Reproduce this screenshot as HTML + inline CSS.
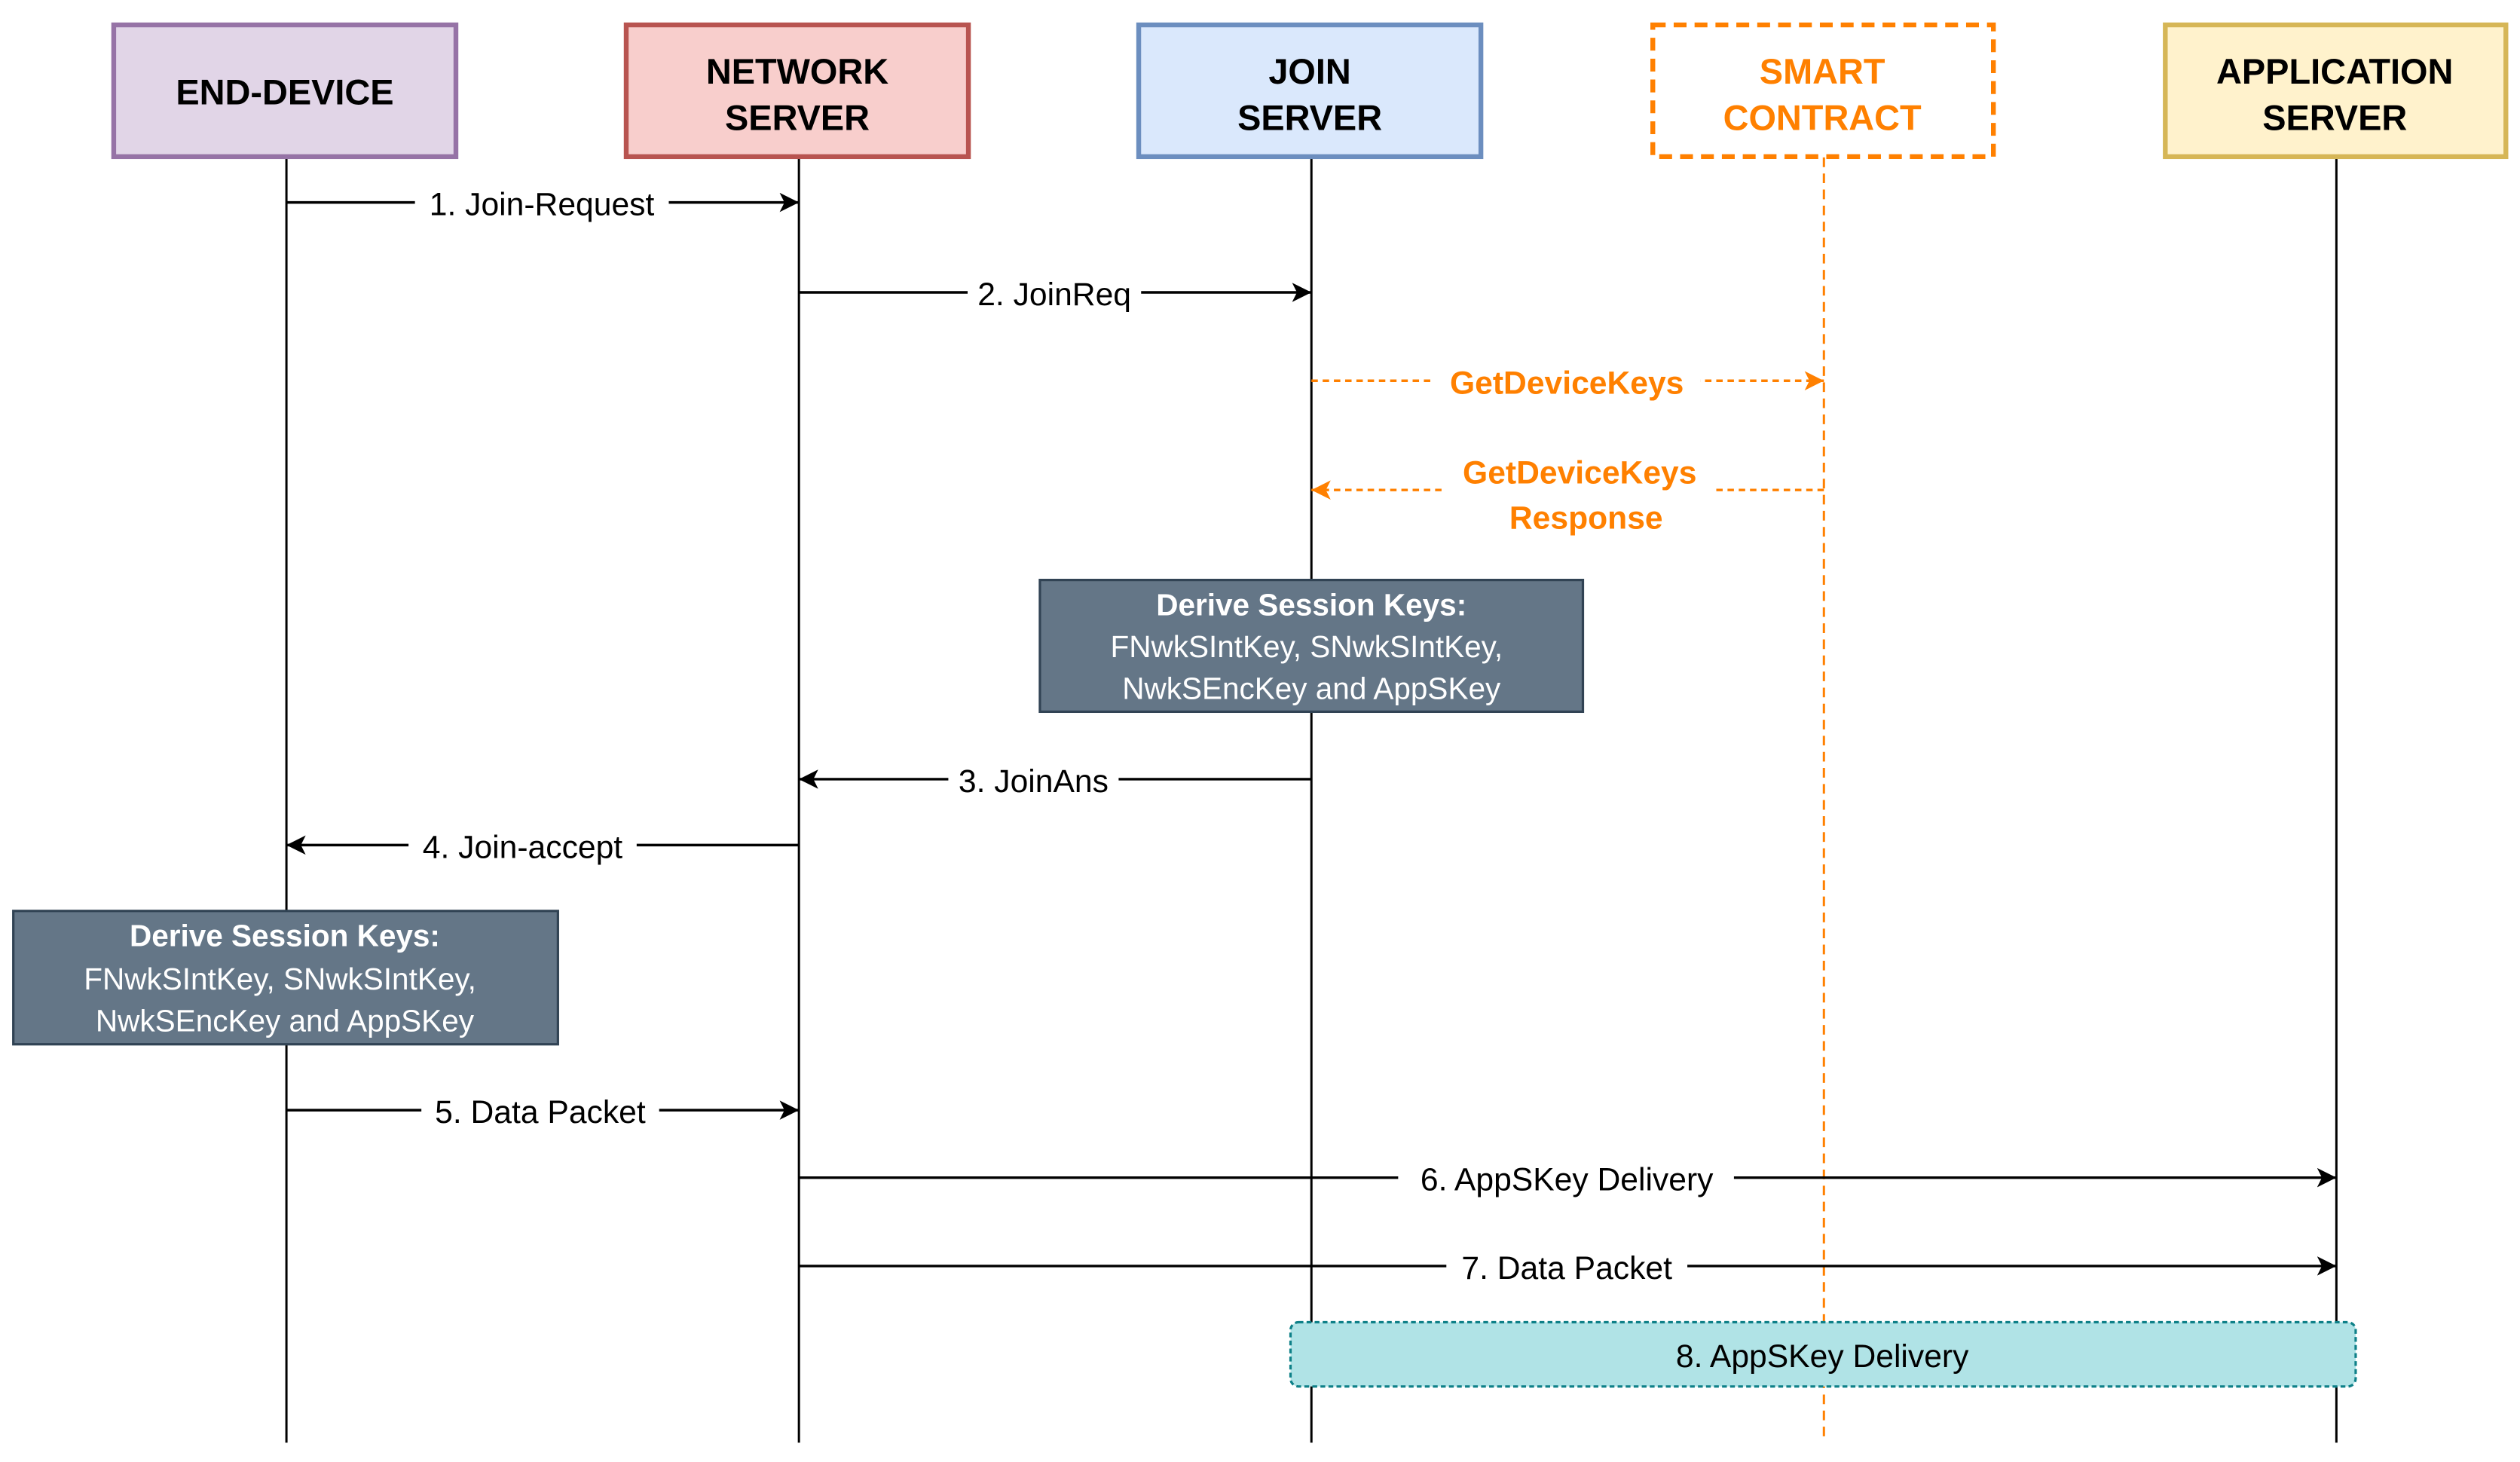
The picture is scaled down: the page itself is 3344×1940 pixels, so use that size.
<!DOCTYPE html>
<html><head><meta charset="utf-8"><style>html,body{margin:0;padding:0;background:#fff}svg{display:block}svg text{font-family:"Liberation Sans",Arial,sans-serif}</style></head>
<body>
<svg width="3344" height="1940" viewBox="0 0 1568 910" xmlns="http://www.w3.org/2000/svg" style="font-family:'Liberation Sans',Arial,sans-serif">
<defs>
<marker id="ab" markerWidth="12" markerHeight="12" refX="10" refY="5" orient="auto" markerUnits="userSpaceOnUse" viewBox="0 0 10 10"><path d="M0,0 L10,5 L0,10 L2.5,5 Z" fill="#000"/></marker>
<marker id="ao" markerWidth="12" markerHeight="12" refX="10" refY="5" orient="auto" markerUnits="userSpaceOnUse" viewBox="0 0 10 10"><path d="M0,0 L10,5 L0,10 L2.5,5 Z" fill="#FF8000"/></marker>
</defs>
<rect width="1568" height="910" fill="#fff"/>
<g stroke="#000" stroke-width="1.4">
<line x1="178" y1="98" x2="178" y2="898"/>
<line x1="497" y1="98" x2="497" y2="898"/>
<line x1="816" y1="98" x2="816" y2="898"/>
<line x1="1454" y1="98" x2="1454" y2="898"/>
</g>
<line x1="1135" y1="98" x2="1135" y2="898" stroke="#FF8000" stroke-width="1.4" stroke-dasharray="6,4"/>
<rect x="70.5" y="15.5" width="213" height="82" fill="#e1d5e7" stroke="#9673a6" stroke-width="3"/>
<rect x="389.5" y="15.5" width="213" height="82" fill="#f8cecc" stroke="#b85450" stroke-width="3"/>
<rect x="708.5" y="15.5" width="213" height="82" fill="#dae8fc" stroke="#6c8ebf" stroke-width="3"/>
<rect x="1028.5" y="15.5" width="212" height="82" fill="#fff" stroke="#FF8000" stroke-width="3" stroke-dasharray="8,5"/>
<rect x="1347.5" y="15.5" width="212" height="82" fill="#fff2cc" stroke="#d6b656" stroke-width="3"/>
<g font-weight="bold" font-size="22" text-anchor="middle">
<text x="177" y="65">END-DEVICE</text>
<text x="496" y="52">NETWORK</text><text x="496" y="81">SERVER</text>
<text x="815" y="52">JOIN</text><text x="815" y="81">SERVER</text>
<text x="1134" y="52" fill="#FF8000">SMART</text><text x="1134" y="81" fill="#FF8000">CONTRACT</text>
<text x="1453" y="52">APPLICATION</text><text x="1453" y="81">SERVER</text>
</g>
<g stroke="#000" stroke-width="1.6" fill="none">
<line x1="178" y1="126" x2="497" y2="126" marker-end="url(#ab)"/>
<line x1="497" y1="182" x2="816" y2="182" marker-end="url(#ab)"/>
<line x1="816" y1="485" x2="497" y2="485" marker-end="url(#ab)"/>
<line x1="497" y1="526" x2="178" y2="526" marker-end="url(#ab)"/>
<line x1="178" y1="691" x2="497" y2="691" marker-end="url(#ab)"/>
<line x1="497" y1="733" x2="1454" y2="733" marker-end="url(#ab)"/>
<line x1="497" y1="788" x2="1454" y2="788" marker-end="url(#ab)"/>
</g>
<g stroke="#FF8000" stroke-width="1.6" stroke-dasharray="4,3" fill="none">
<line x1="816" y1="237" x2="1135" y2="237" marker-end="url(#ao)"/>
<line x1="1135" y1="305" x2="816" y2="305" marker-end="url(#ao)"/>
</g>
<g font-size="20" text-anchor="middle">
<rect x="258" y="113" width="158" height="26" fill="#fff"/><text x="337" y="134">1. Join-Request</text>
<rect x="602" y="169" width="108" height="26" fill="#fff"/><text x="656" y="190">2. JoinReq</text>
<rect x="590" y="472" width="106" height="26" fill="#fff"/><text x="643" y="493">3. JoinAns</text>
<rect x="254" y="513" width="142" height="26" fill="#fff"/><text x="325" y="534">4. Join-accept</text>
<rect x="262" y="678" width="148" height="26" fill="#fff"/><text x="336" y="699">5. Data Packet</text>
<rect x="870" y="720" width="209" height="26" fill="#fff"/><text x="975" y="741">6. AppSKey Delivery</text>
<rect x="900" y="775" width="150" height="26" fill="#fff"/><text x="975" y="796">7. Data Packet</text>
</g>
<g font-size="20" font-weight="bold" fill="#FF8000" text-anchor="middle">
<rect x="892" y="224" width="166" height="26" fill="#fff"/><text x="975" y="245">GetDeviceKeys</text>
<rect x="898" y="282" width="170" height="52" fill="#fff"/><text x="983" y="301">GetDeviceKeys</text><text x="987" y="329">Response</text>
</g>
<rect x="647" y="361" width="338" height="82" fill="#647687" stroke="#314354" stroke-width="1.5"/>
<g fill="#fff" font-size="19" text-anchor="middle">
<text x="816" y="383" font-weight="bold">Derive Session Keys:</text>
<text x="813" y="409">FNwkSIntKey, SNwkSIntKey,</text>
<text x="816" y="435">NwkSEncKey and AppSKey</text>
</g>
<rect x="8" y="567" width="339" height="83" fill="#647687" stroke="#314354" stroke-width="1.5"/>
<g fill="#fff" font-size="19" text-anchor="middle">
<text x="177" y="589" font-weight="bold">Derive Session Keys:</text>
<text x="174" y="616">FNwkSIntKey, SNwkSIntKey,</text>
<text x="177" y="642">NwkSEncKey and AppSKey</text>
</g>
<rect x="803" y="823" width="663" height="40" rx="5" fill="#b0e3e6" stroke="#0e8088" stroke-width="1.5" stroke-dasharray="3,2"/>
<text x="1134" y="851" font-size="20" text-anchor="middle">8. AppSKey Delivery</text>
</svg>
</body></html>
